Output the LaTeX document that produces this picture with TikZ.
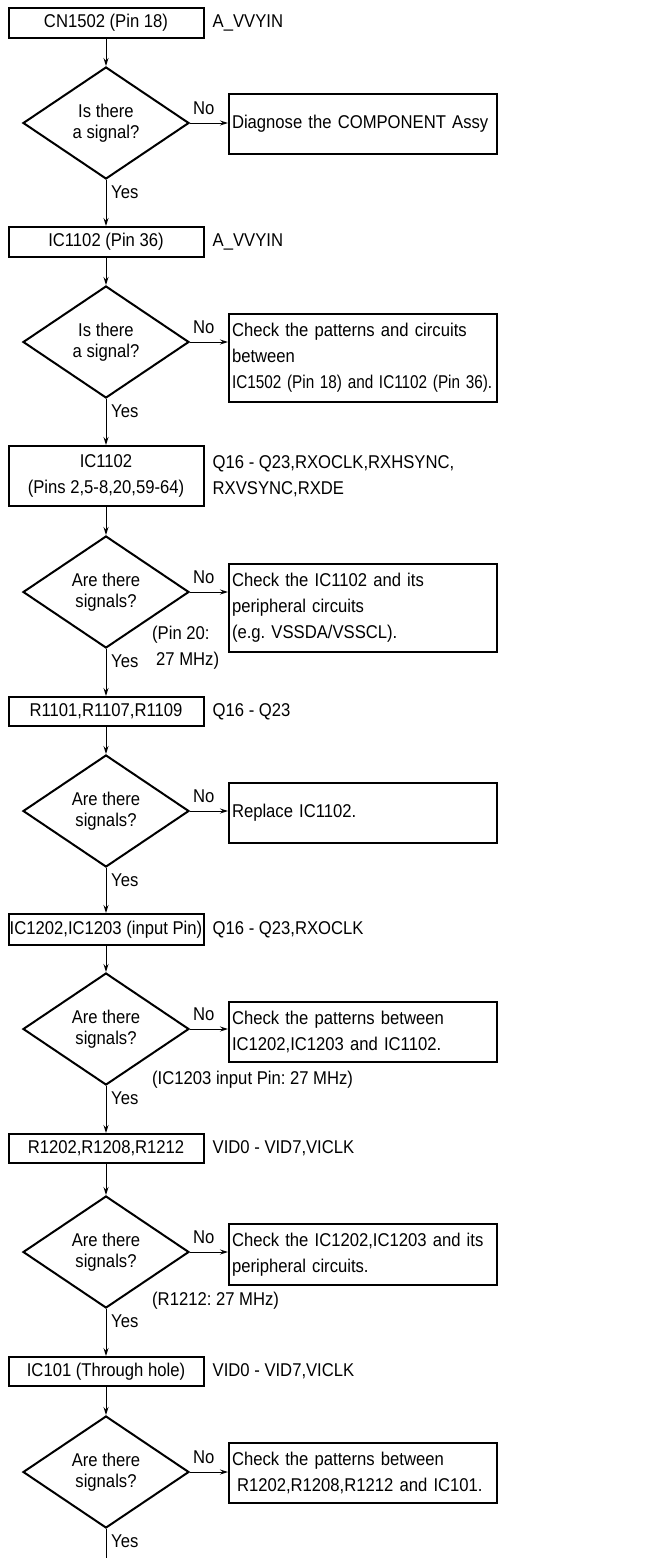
\documentclass[tikz,border=0pt]{standalone}
\usepackage{fontspec}
\usepackage{graphicx}
\setmainfont{Liberation Sans}[FakeStretch=0.9]
\usetikzlibrary{shapes.geometric,arrows.meta,calc}
\newcommand\bodyfs{\fontsize{18.5pt}{26pt}\selectfont\frenchspacing}
\newcommand\decfs{\fontsize{18.5pt}{20.5pt}\selectfont\frenchspacing}
\begin{document}
\begin{tikzpicture}[x=1pt,y=-1pt,
  every node/.style={font=\bodyfs},
  lbox/.style={draw, line width=2pt, minimum width=195, inner sep=0, align=center},
  rbox/.style={draw, line width=2pt, text width=262, inner xsep=3, inner ysep=0, align=left},
  dec/.style={diamond, draw, line width=2pt, minimum width=166, minimum height=112, inner sep=0, align=center, font=\decfs},
  arr/.style={-{Stealth[length=8pt,width=5pt]}, line width=1pt},
  conn/.style={line width=1pt},
  side/.style={anchor=west, inner sep=0, align=left},
  nolab/.style={anchor=base west, inner sep=0},
  yeslab/.style={anchor=base west, inner sep=0},
  note/.style={anchor=west, inner sep=0, align=left}]
\useasboundingbox (0,0) rectangle (663,1558);

% left column boxes
\node[lbox, minimum height=30] (b1) at (106,23) {CN1502 (Pin 18)};
\node[lbox, minimum height=30] (b2) at (106,242) {IC1102 (Pin 36)};
\node[lbox, minimum height=60] (b3) at (106,476) {IC1102\\(Pins 2,5-8,20,59-64)};
\node[lbox, minimum height=29] (b4) at (106,711.5) {R1101,R1107,R1109};
\node[lbox, minimum height=31] (b5) at (106,929.5) {IC1202,IC1203 (input Pin)};
\node[lbox, minimum height=29] (b6) at (106,1148.5) {R1202,R1208,R1212};
\node[lbox, minimum height=29] (b7) at (106,1371.5) {IC101 (Through hole)};

% side labels
\node[side] (s1) at ($(b1.east)+(8,0)$) {A\_VVYIN};
\node[side] (s2) at ($(b2.east)+(8,0)$) {A\_VVYIN};
\node[side] (s3) at ($(b3.east)+(8,0)$) {Q16 - Q23,RXOCLK,RXHSYNC,\\RXVSYNC,RXDE};
\node[side] (s4) at ($(b4.east)+(8,0)$) {Q16 - Q23};
\node[side] (s5) at ($(b5.east)+(8,0)$) {Q16 - Q23,RXOCLK};
\node[side] (s6) at ($(b6.east)+(8,0)$) {VID0 - VID7,VICLK};
\node[side] (s7) at ($(b7.east)+(8,0)$) {VID0 - VID7,VICLK};

% decisions
\node[dec] (d1) at (106,123) {Is there\\a signal?};
\node[dec] (d2) at (106,342) {Is there\\a signal?};
\node[dec] (d3) at (106,592) {Are there\\signals?};
\node[dec] (d4) at (106,811) {Are there\\signals?};
\node[dec] (d5) at (106,1029) {Are there\\signals?};
\node[dec] (d6) at (106,1252) {Are there\\signals?};
\node[dec] (d7) at (106,1472) {Are there\\signals?};

% right boxes
\node[rbox, minimum height=60] (r1) at (363,124) {Diagnose the COMPONENT Assy};
\node[rbox, minimum height=88] (r2) at (363,358) {Check the patterns and circuits\\between\\\scalebox{0.92}[1]{IC1502 (Pin 18) and IC1102 (Pin 36).}};
\node[rbox, minimum height=88] (r3) at (363,608) {Check the IC1102 and its\\peripheral circuits\\(e.g. VSSDA/VSSCL).};
\node[rbox, minimum height=60] (r4) at (363,813) {Replace IC1102.};
\node[rbox, minimum height=60] (r5) at (363,1032) {Check the patterns between\\IC1202,IC1203 and IC1102.};
\node[rbox, minimum height=61] (r6) at (363,1254.5) {Check the IC1202,IC1203 and its\\peripheral circuits.};
\node[rbox, minimum height=60] (r7) at (363,1473) {Check the patterns between\\\hspace*{5pt}R1202,R1208,R1212 and IC101.};

% notes
\node[note] (n3) at (152,647.5) {(Pin 20:\\\hspace*{4pt}27 MHz)};
\node[note] (n5) at (152,1080) {(IC1203 input Pin: 27 MHz)};
\node[note] (n6) at (152,1301) {(R1212: 27 MHz)};

\coordinate (end) at (106,1558);

% vertical flow
\draw[arr] (b1.south) -- (d1.north);
\draw[arr] (d1.south) -- (b2.north);
\draw[arr] (b2.south) -- (d2.north);
\draw[arr] (d2.south) -- (b3.north);
\draw[arr] (b3.south) -- (d3.north);
\draw[arr] (d3.south) -- (b4.north);
\draw[arr] (b4.south) -- (d4.north);
\draw[arr] (d4.south) -- (b5.north);
\draw[arr] (b5.south) -- (d5.north);
\draw[arr] (d5.south) -- (b6.north);
\draw[arr] (b6.south) -- (d6.north);
\draw[arr] (d6.south) -- (b7.north);
\draw[arr] (b7.south) -- (d7.north);
\draw[conn] (d7.south) -- (end);

% No branches and Yes labels
\foreach \i in {1,...,7}{
  \draw[arr] (d\i.east) -- (d\i.east -| r\i.west);
  \node[nolab] (no\i) at ($(d\i.east)+(3,-9)$) {No};
  \node[yeslab] (yes\i) at ($(d\i.south)+(5,18)$) {Yes};
}
\end{tikzpicture}
\end{document}
